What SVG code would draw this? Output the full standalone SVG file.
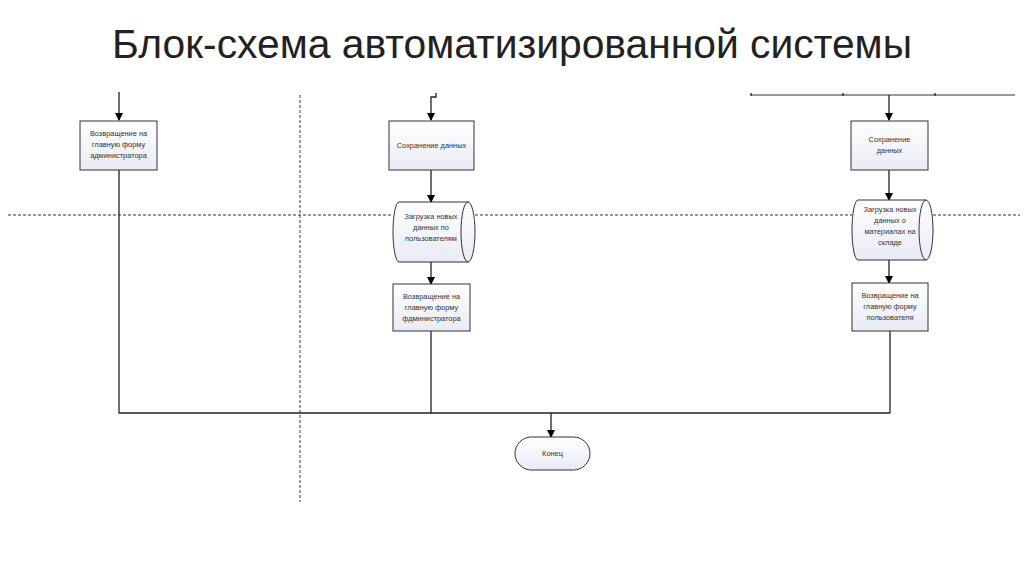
<svg xmlns="http://www.w3.org/2000/svg" width="1024" height="574" viewBox="0 0 1024 574">
<defs>
<linearGradient id="fill" x1="0" y1="0" x2="0" y2="1">
<stop offset="0" stop-color="#ffffff"/>
<stop offset="1" stop-color="#e9ebf5"/>
</linearGradient>
<marker id="arr" markerWidth="8" markerHeight="8" refX="7" refY="4" orient="auto" markerUnits="userSpaceOnUse">
<path d="M0,0 L8,4 L0,8 Z" fill="#000"/>
</marker>
</defs>
<style>
.box{fill:url(#fill);stroke:#333;stroke-width:1}
.lbl{font-family:"Liberation Sans",Arial,sans-serif;font-size:7.4px;fill:#333;text-anchor:middle}
.ln{fill:none;stroke:#222;stroke-width:1.3}
.gl{fill:none;stroke:#777;stroke-width:1.5}
.dash{fill:none;stroke:#333;stroke-width:1;stroke-dasharray:3,2}
.title{font-family:"Liberation Sans",Arial,sans-serif;font-size:40px;fill:#222;text-anchor:middle}
</style>
<rect width="1024" height="574" fill="#fff"/>
<text class="title" x="512" y="58" textLength="800" lengthAdjust="spacingAndGlyphs">Блок-схема автоматизированной системы</text>

<g id="lanes">
<line class="dash" x1="300" y1="95" x2="300" y2="502"/>
<line class="dash" x1="8" y1="215" x2="393" y2="215"/>
<line class="dash" x1="475" y1="215" x2="852" y2="215"/>
<line class="dash" x1="933" y1="215" x2="1020" y2="215"/>
</g>

<g id="connectors">
<line class="ln" x1="119" y1="92" x2="119" y2="120" marker-end="url(#arr)"/>
<polyline class="ln" points="119,170 119,413 890,413"/>
<polyline class="ln" points="436,93 436,97 431,97 431,120" marker-end="url(#arr)"/>
<line class="ln" x1="431" y1="170" x2="431" y2="202" marker-end="url(#arr)"/>
<line class="ln" x1="431" y1="262" x2="431" y2="284" marker-end="url(#arr)"/>
<line class="ln" x1="431" y1="331" x2="431" y2="413"/>
<polyline class="gl" points="751,95 1015,95"/>
<line class="ln" x1="751" y1="93" x2="751" y2="96"/>
<line class="ln" x1="843" y1="93" x2="843" y2="96"/>
<line class="ln" x1="935" y1="93" x2="935" y2="96"/>
<line class="ln" x1="889" y1="95" x2="889" y2="120" marker-end="url(#arr)" stroke-width="2"/>
<line class="ln" x1="889" y1="170" x2="889" y2="200" marker-end="url(#arr)"/>
<line class="ln" x1="889" y1="260" x2="889" y2="283" marker-end="url(#arr)"/>
<line class="ln" x1="890" y1="331" x2="890" y2="413"/>
<line class="ln" x1="551" y1="413" x2="551" y2="437" marker-end="url(#arr)"/>
</g>

<g id="n1">
<rect class="box" x="80" y="121" width="77" height="49"/>
<text class="lbl" x="118.5" y="136">Возвращение на</text>
<text class="lbl" x="118.5" y="147">главную форму</text>
<text class="lbl" x="118.5" y="158">администратора</text>
</g>

<g id="n2">
<rect class="box" x="389" y="121" width="85" height="49"/>
<text class="lbl" x="431.5" y="148">Сохранение данных</text>
</g>

<g id="n3">
<path class="box" d="M399,202 L468,202 A7,30 0 0 1 468,262 L399,262 A6,30 0 0 1 399,202 Z"/>
<path class="box" d="M468,202 A7,30 0 0 0 468,262" style="fill:none"/>
<text class="lbl" x="431" y="219">Загрузка новых</text>
<text class="lbl" x="431" y="230">данных по</text>
<text class="lbl" x="431" y="241">пользователям</text>
</g>

<g id="n4">
<rect class="box" x="393" y="284" width="77" height="47"/>
<text class="lbl" x="431.5" y="299">Возвращение на</text>
<text class="lbl" x="431.5" y="310">главную форму</text>
<text class="lbl" x="431.5" y="321">фдминистратора</text>
</g>

<g id="n5">
<rect class="box" x="851" y="121" width="77" height="49"/>
<text class="lbl" x="889.5" y="142">Сохранение</text>
<text class="lbl" x="889.5" y="153">данных</text>
</g>

<g id="n6">
<path class="box" d="M858,200 L926,200 A7,30 0 0 1 926,260 L858,260 A6,30 0 0 1 858,200 Z"/>
<path class="box" d="M926,200 A7,30 0 0 0 926,260" style="fill:none"/>
<text class="lbl" x="890" y="212">Загрузка новых</text>
<text class="lbl" x="890" y="223">данных о</text>
<text class="lbl" x="890" y="234">материалах на</text>
<text class="lbl" x="890" y="245">складе</text>
</g>

<g id="n7">
<rect class="box" x="852" y="283" width="76" height="48"/>
<text class="lbl" x="890" y="298">Возвращение на</text>
<text class="lbl" x="890" y="309">главную форму</text>
<text class="lbl" x="890" y="320">пользователя</text>
</g>

<g id="n8">
<rect class="box" x="515" y="437" width="75" height="33" rx="16.5" ry="16.5"/>
<text class="lbl" x="552.5" y="456">Конец</text>
</g>
</svg>
